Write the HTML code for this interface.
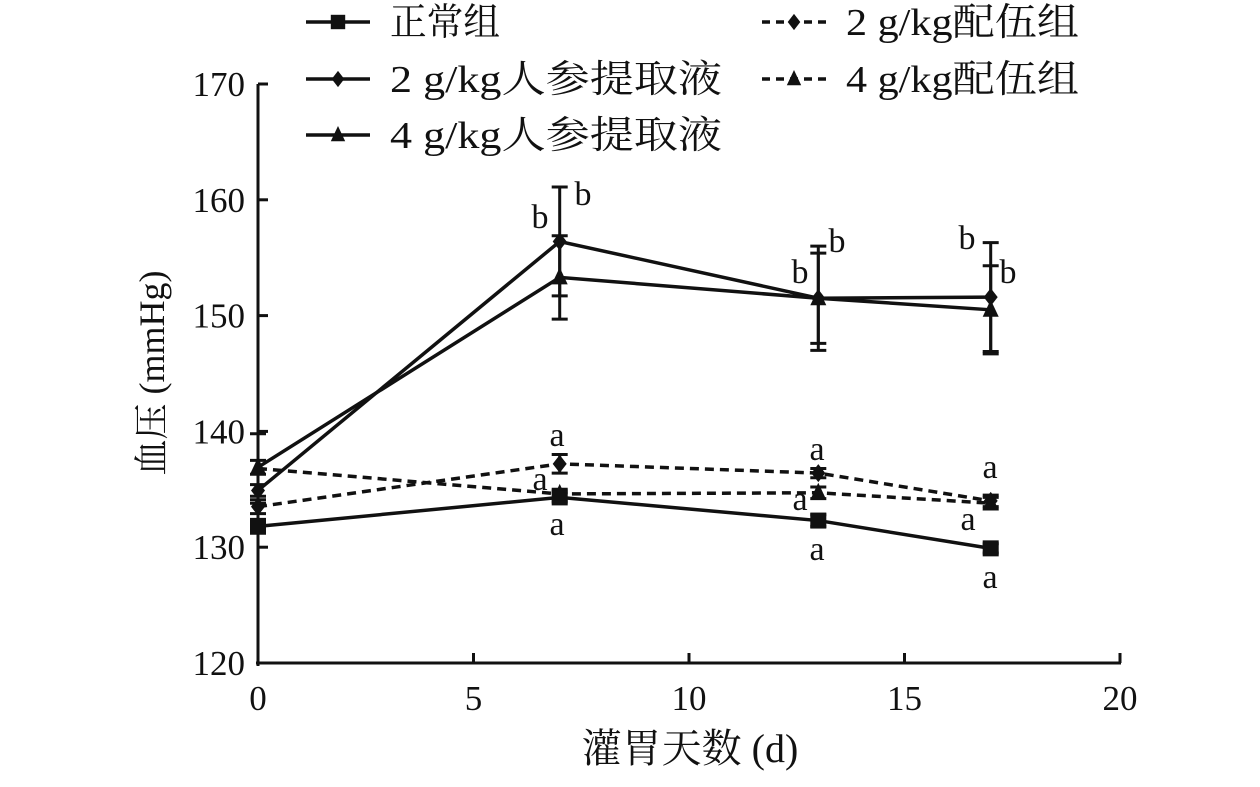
<!DOCTYPE html>
<html><head><meta charset="utf-8"><style>
html,body{margin:0;padding:0;background:#fff;}
svg text{font-family:"Liberation Serif","Noto Serif CJK SC",serif;fill:#111;}
</style></head><body>
<svg id="chart" width="1260" height="782" viewBox="0 0 1260 782" xmlns="http://www.w3.org/2000/svg">
<g id="axes"></g>
<g id="plot"></g>
<g id="legend"></g>
</svg>
<script>
const days = [0, 7, 13, 17];
const xTicks = [0, 5, 10, 15, 20];
const yTicks = [120, 130, 140, 150, 160, 170];
const seriesNames = ["正常组", "2 g/kg人参提取液", "4 g/kg人参提取液", "2 g/kg配伍组", "4 g/kg配伍组"];
const normalVals = [131.8, 134.3, 132.3, 129.9];
const ginseng2Vals = [134.9, 156.4, 151.5, 151.6];
const ginseng4Vals = [136.9, 153.3, 151.5, 150.5];
const comp2Vals = [133.5, 137.2, 136.4, 134.0];
const comp4Vals = [136.8, 134.6, 134.7, 133.8];
const normalErr = [0.6, 0.4, 0.5, 0.4];
const ginseng2Err = [0.5, 4.7, 4.5, 4.7];
const ginseng4Err = [0.6, 3.6, 3.9, 3.8];
const comp2Err = [0.6, 0.8, 0.4, 0.5];
const comp4Err = [3.0, 0.4, 0.5, 0.5];
const NS="http://www.w3.org/2000/svg";
const X=v=>258+v*43.1;
const Y=v=>663-(v-120)*11.58;
function mk(tag,attrs,parent){const e=document.createElementNS(NS,tag);for(const k in attrs)e.setAttribute(k,attrs[k]);parent.appendChild(e);return e;}
const axes=document.getElementById('axes'),plot=document.getElementById('plot'),legend=document.getElementById('legend');
let e;
e=mk('line',{x1:258,y1:84,x2:258,y2:666,stroke:'#111','stroke-width':3},axes);


e=mk('line',{x1:256,y1:663,x2:1121,y2:663,stroke:'#111','stroke-width':3},axes);


yTicks.forEach(t=>{
 e=mk('line',{x1:258,y1:Y(t),x2:268,y2:Y(t),stroke:'#111','stroke-width':3},axes);
 
 
 e=mk('text',{x:245,y:Y(t)+12,'text-anchor':'end','font-size':35},axes);e.textContent=t;
 
 
});
xTicks.forEach(t=>{
 e=mk('line',{x1:X(t),y1:663,x2:X(t),y2:653,stroke:'#111','stroke-width':3},axes);
 
 
 e=mk('text',{x:X(t),y:710,'text-anchor':'middle','font-size':35},axes);e.textContent=t;
 
 
});
e=mk('text',{x:690,y:762,'text-anchor':'middle','font-size':40},axes);e.textContent='灌胃天数 (d)';


e=mk('text',{x:0,y:0,'text-anchor':'middle','font-size':36,transform:'translate(164,373) rotate(-90)'},axes);e.textContent='血压 (mmHg)';



function marker(type,cx,cy,parent,s){
 s=s||1;
 if(type==='sq')return mk('rect',{x:cx-8*s,y:cy-8*s,width:16*s,height:16*s,fill:'#111'},parent);
 if(type==='di')return mk('polygon',{points:`${cx},${cy-9*s} ${cx+7*s},${cy} ${cx},${cy+9*s} ${cx-7*s},${cy}`,fill:'#111'},parent);
 return mk('polygon',{points:`${cx},${cy-10*s} ${cx+8*s},${cy+7*s} ${cx-8*s},${cy+7*s}`,fill:'#111'},parent);
}
const series=[
 {name:'normal',vals:normalVals,err:normalErr,m:'sq',dash:null},
 {name:'ginseng-2g',vals:ginseng2Vals,err:ginseng2Err,m:'di',dash:null},
 {name:'ginseng-4g',vals:ginseng4Vals,err:ginseng4Err,m:'tr',dash:null},
 {name:'compound-2g',vals:comp2Vals,err:comp2Err,m:'di',dash:'9,6'},
 {name:'compound-4g',vals:comp4Vals,err:comp4Err,m:'tr',dash:'9,6'}
];
series.forEach(s=>{
 const g=mk('g',{},plot);
 
 
 days.forEach((d,i)=>{
  const cx=X(d),t=Y(s.vals[i]+s.err[i]),b=Y(s.vals[i]-s.err[i]);
  e=mk('path',{d:`M${cx},${t}V${b}M${cx-8},${t}H${cx+8}M${cx-8},${b}H${cx+8}`,stroke:'#111','stroke-width':3,fill:'none'},g);
  
  
 });
 const pts=days.map((d,i)=>X(d)+','+Y(s.vals[i])).join(' ');
 e=mk('polyline',{points:pts,fill:'none',stroke:'#111','stroke-width':3.5},g);
 if(s.dash)e.setAttribute('stroke-dasharray',s.dash);
 
 
 days.forEach((d,i)=>{
  e=marker(s.m,X(d),Y(s.vals[i]),g);
  
  
 });
});
const letters=[['b',540,228],['b',583,205],['b',800,283],['b',837,252],['b',967,249],['b',1008,283],
['a',557,446],['a',540,490],['a',557,535],['a',817,460],['a',800,510],['a',817,560],['a',990,478],['a',968,530],['a',990,588]];
letters.forEach(l=>{e=mk('text',{x:l[1],y:l[2],'text-anchor':'middle','font-size':34},plot);e.textContent=l[0];
 
 });
const legPos=[[306,22,'sq',null,110],[306,79,'di',null,332],[306,135,'tr',null,332],[762,22,'di','8,6',233],[762,79,'tr','8,6',233]];
seriesNames.forEach((n,i)=>{
 const p=legPos[i];
 const g=mk('g',{},legend);
 
 
 e=mk('line',{x1:p[0],y1:p[1],x2:p[0]+64,y2:p[1],stroke:'#111','stroke-width':3.5},g);
 if(p[3])e.setAttribute('stroke-dasharray',p[3]);
 marker(p[2],p[0]+32,p[1],g,0.9);
 e=mk('text',{x:p[0]+84,y:p[1]+13,'font-size':38,textLength:p[4],lengthAdjust:'spacingAndGlyphs'},g);e.textContent=n;
});
</script>
</body></html>
